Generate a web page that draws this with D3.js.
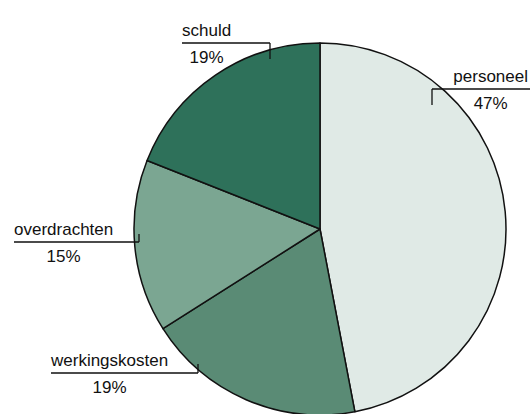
<!DOCTYPE html>
<html><head><meta charset="utf-8">
<script src="https://cdn.jsdelivr.net/npm/d3@7/dist/d3.min.js"></script>
<style>html,body{margin:0;padding:0;background:#fff}svg{display:block}</style>
</head><body>
<svg id="c" width="532" height="414"></svg>
<script>
const categories = ["personeel", "werkingskosten", "overdrachten", "schuld"];
const values = [47, 19, 15, 19];
const pctLabels = ["47%", "19%", "15%", "19%"];
const colors = ["#e0eae6", "#5a8b75", "#7ba692", "#2e715a"];

const W = 532, H = 414, cx = 320, cy = 229, R = 186;
const svg = d3.select("#c");
const g = svg.append("g").attr("transform", `translate(${cx},${cy})`);

const pie = d3.pie().sort(null).value(d => d.v);
const arcs = pie(categories.map((c, i) => ({c, v: values[i], col: colors[i], p: pctLabels[i]})));
const arc = d3.arc().innerRadius(0).outerRadius(R);

g.selectAll("path").data(arcs).join("path")
  .attr("d", arc)
  .attr("fill", d => d.data.col)
  .attr("stroke", "#111")
  .attr("stroke-width", 1.5)
  .attr("stroke-linejoin", "round");

// label layout (pixel positions relative to the chart): tick point, line, text edge
const layout = {
  personeel:      {tx: 432, ly: 89,  tick: 16, side: "right", edge: 528, lineEnd: 530},
  werkingskosten: {tx: 198, ly: 373, tick: -9, side: "left",  edge: 51},
  overdrachten:   {tx: 139, ly: 242, tick: -8, side: "left",  edge: 14},
  schuld:         {tx: 270, ly: 43,  tick: 16, side: "left",  edge: 182}
};

const font = "'Liberation Sans', Arial, sans-serif";
const lab = svg.append("g");
arcs.forEach(d => {
  const L = layout[d.data.c];
  const name = lab.append("text")
    .attr("font-family", font).attr("font-size", 17).attr("fill", "#111")
    .attr("y", L.ly - 7.5).text(d.data.c);
  const w = name.node().getComputedTextLength();
  let left, x1, x2;
  if (L.side === "left") { left = L.edge; x1 = L.edge; x2 = L.tx; }
  else { left = L.edge - w; x1 = L.tx; x2 = L.lineEnd; }
  name.attr("x", left);
  lab.append("text")
    .attr("font-family", font).attr("font-size", 17).attr("fill", "#111")
    .attr("text-anchor", "middle")
    .attr("x", left + w / 2).attr("y", L.ly + 19.5).text(d.data.p);
  lab.append("path")
    .attr("d", `M${x1},${L.ly}H${x2}M${L.tx},${L.ly}V${L.ly + L.tick}`)
    .attr("fill", "none").attr("stroke", "#111").attr("stroke-width", 1.3);
});
</script>
</body></html>
